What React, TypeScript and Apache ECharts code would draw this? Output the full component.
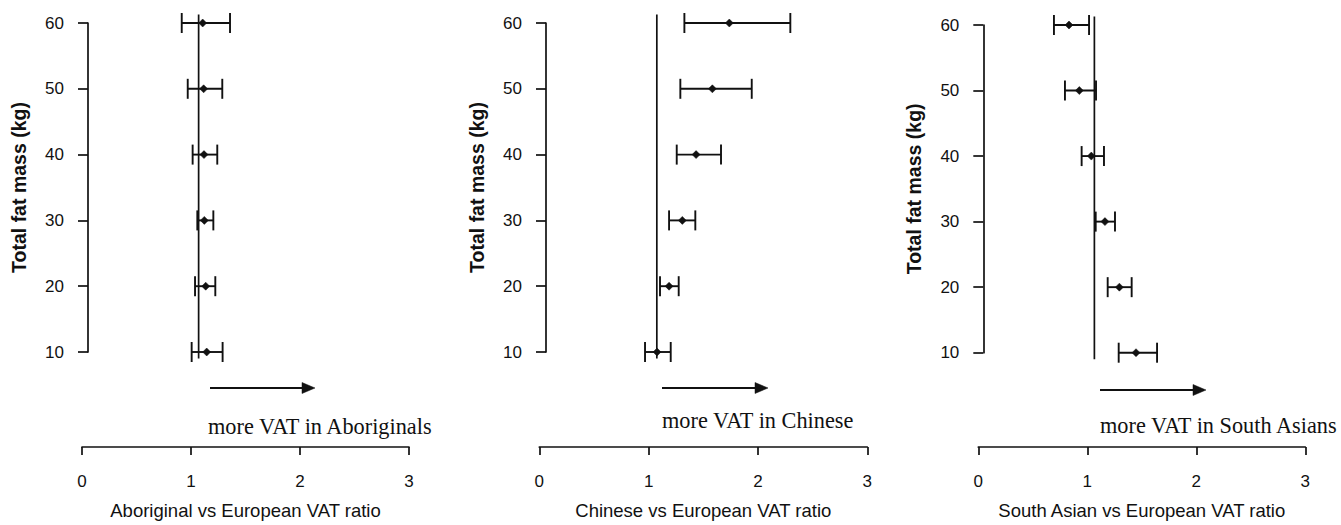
import React, { useEffect, useRef } from "react";
import * as echarts from "echarts";

// Total fat mass levels (kg)
const fatMass = [10, 20, 30, 40, 50, 60];

// Aboriginal vs European VAT ratio
const aboriginalEst = [1.144, 1.135, 1.122, 1.119, 1.116, 1.107];
const aboriginalLow = [1.006, 1.037, 1.058, 1.015, 0.97, 0.915];
const aboriginalHigh = [1.29, 1.223, 1.205, 1.241, 1.287, 1.358];

// Chinese vs European VAT ratio
const chineseEst = [1.077, 1.187, 1.308, 1.434, 1.583, 1.738];
const chineseLow = [0.967, 1.104, 1.187, 1.257, 1.29, 1.327];
const chineseHigh = [1.202, 1.275, 1.427, 1.662, 1.943, 2.296];

// South Asian vs European VAT ratio
const southAsianEst = [1.447, 1.294, 1.162, 1.037, 0.927, 0.832];
const southAsianLow = [1.288, 1.187, 1.077, 0.948, 0.795, 0.694];
const southAsianHigh = [1.64, 1.407, 1.254, 1.153, 1.08, 1.016];

// reference line position for each panel
const referenceRatio = [1.07, 1.075, 1.065];
const referenceSpan = [9.0, 61.3];

const xTicks = [0, 1, 2, 3];
const yTicks = [10, 20, 30, 40, 50, 60];

const panelNames = [
  "Aboriginal vs European VAT ratio",
  "Chinese vs European VAT ratio",
  "South Asian vs European VAT ratio",
];
const arrowTexts = [
  "more VAT in Aboriginals",
  "more VAT in Chinese",
  "more VAT in South Asians",
];

const INK = "#111111";

export default function App() {
  const ref = useRef<HTMLDivElement>(null);

  useEffect(() => {
    if (!ref.current) return;
    const chart = echarts.init(ref.current, null, { renderer: "svg" });

    const panels = [
      { est: aboriginalEst, low: aboriginalLow, high: aboriginalHigh },
      { est: chineseEst, low: chineseLow, high: chineseHigh },
      { est: southAsianEst, low: southAsianLow, high: southAsianHigh },
    ];

    const gridLeft = [82, 539.3, 978.3];
    const gridWidth = [327, 328, 327];
    const gridTop = [23, 23, 25];
    const gridHeight = 330;
    const yOffset = [-6, -6.7, -5];
    const xOffset = [95, 95, 94.3];

    const grids: any[] = [];
    const xAxes: any[] = [];
    const yAxes: any[] = [];
    const series: any[] = [];

    panels.forEach((p, i) => {
      grids.push({
        left: gridLeft[i],
        width: gridWidth[i],
        top: gridTop[i],
        height: gridHeight,
        containLabel: false,
      });
      xAxes.push({
        type: "value",
        gridIndex: i,
        min: xTicks[0],
        max: xTicks[xTicks.length - 1],
        interval: 1,
        position: "bottom",
        offset: xOffset[i],
        name: panelNames[i],
        nameLocation: "middle",
        nameGap: 54,
        nameTextStyle: {
          fontFamily: "Liberation Sans, Arial, sans-serif",
          fontSize: 18.5,
          color: INK,
        },
        axisLine: { show: true, onZero: false, lineStyle: { color: INK, width: 1.7 } },
        axisTick: { show: true, length: 8, inside: false, lineStyle: { color: INK, width: 1.7 } },
        axisLabel: {
          margin: 26,
          fontFamily: "Liberation Sans, Arial, sans-serif",
          fontSize: 17,
          color: INK,
        },
        splitLine: { show: false },
      });
      yAxes.push({
        type: "value",
        gridIndex: i,
        min: yTicks[0],
        max: yTicks[yTicks.length - 1],
        interval: 10,
        position: "left",
        offset: yOffset[i],
        name: "Total fat mass (kg)",
        nameLocation: "middle",
        nameRotate: 90,
        nameGap: 59,
        nameTextStyle: {
          fontFamily: "Liberation Sans, Arial, sans-serif",
          fontSize: 19.5,
          fontWeight: "bold",
          color: INK,
        },
        axisLine: { show: true, onZero: false, lineStyle: { color: INK, width: 1.7 } },
        axisTick: { show: true, length: 10, inside: false, lineStyle: { color: INK, width: 1.7 } },
        axisLabel: {
          margin: 24,
          fontFamily: "Liberation Sans, Arial, sans-serif",
          fontSize: 17,
          color: INK,
        },
        splitLine: { show: false },
      });

      // reference line
      series.push({
        type: "line",
        xAxisIndex: i,
        yAxisIndex: i,
        clip: false,
        symbol: "none",
        silent: true,
        lineStyle: { color: INK, width: 1.7 },
        data: [
          [referenceRatio[i], referenceSpan[0]],
          [referenceRatio[i], referenceSpan[1]],
        ],
      });

      // error bars with point estimates
      const data = fatMass.map((y, k) => [p.low[k], p.high[k], p.est[k], y]);
      series.push({
        type: "custom",
        xAxisIndex: i,
        yAxisIndex: i,
        clip: false,
        silent: true,
        data,
        encode: { x: [0, 1, 2], y: 3 },
        renderItem: (params: any, api: any) => {
          const lo = api.coord([api.value(0), api.value(3)]);
          const hi = api.coord([api.value(1), api.value(3)]);
          const c = api.coord([api.value(2), api.value(3)]);
          const cap = 10;
          const d = 4;
          const ls = { stroke: INK, lineWidth: 1.9, fill: null };
          return {
            type: "group",
            children: [
              { type: "line", shape: { x1: lo[0], y1: lo[1], x2: hi[0], y2: hi[1] }, style: ls },
              { type: "line", shape: { x1: lo[0], y1: lo[1] - cap, x2: lo[0], y2: lo[1] + cap }, style: ls },
              { type: "line", shape: { x1: hi[0], y1: hi[1] - cap, x2: hi[0], y2: hi[1] + cap }, style: ls },
              {
                type: "polygon",
                shape: {
                  points: [
                    [c[0], c[1] - d],
                    [c[0] + d, c[1]],
                    [c[0], c[1] + d],
                    [c[0] - d, c[1]],
                  ],
                },
                style: { fill: INK, stroke: INK, lineWidth: 0.5 },
              },
            ],
          };
        },
      });
    });

    // arrows and captions
    const arrowStart = [210, 662, 1100];
    const arrowEnd = [315, 768, 1206];
    const arrowY = [388, 388, 390];
    const textX = [208, 662, 1100];
    const textY = [426, 420, 425];
    const graphics: any[] = [];
    for (let i = 0; i < 3; i++) {
      const head = 13;
      graphics.push({
        type: "line",
        silent: true,
        shape: { x1: arrowStart[i], y1: arrowY[i], x2: arrowEnd[i] - head + 1, y2: arrowY[i] },
        style: { stroke: INK, lineWidth: 2 },
      });
      graphics.push({
        type: "polygon",
        silent: true,
        shape: {
          points: [
            [arrowEnd[i] - head, arrowY[i] - 5.5],
            [arrowEnd[i], arrowY[i]],
            [arrowEnd[i] - head, arrowY[i] + 5.5],
          ],
        },
        style: { fill: INK, stroke: INK, lineWidth: 0.5 },
      });
      graphics.push({
        type: "text",
        silent: true,
        x: textX[i],
        y: textY[i],
        style: {
          text: arrowTexts[i],
          fontFamily: "Liberation Serif, Times New Roman, serif",
          fontSize: 22.3,
          fill: INK,
          textAlign: "left",
          textVerticalAlign: "middle",
          verticalAlign: "middle",
        },
      });
    }

    chart.setOption({
      animation: false,
      backgroundColor: "#ffffff",
      grid: grids,
      xAxis: xAxes,
      yAxis: yAxes,
      series,
      graphic: graphics,
    });

    return () => {
      chart.dispose();
    };
  }, []);

  return (
    <div
      ref={ref}
      style={{ position: "absolute", left: 0, top: 0, width: 1341, height: 525 }}
    />
  );
}
